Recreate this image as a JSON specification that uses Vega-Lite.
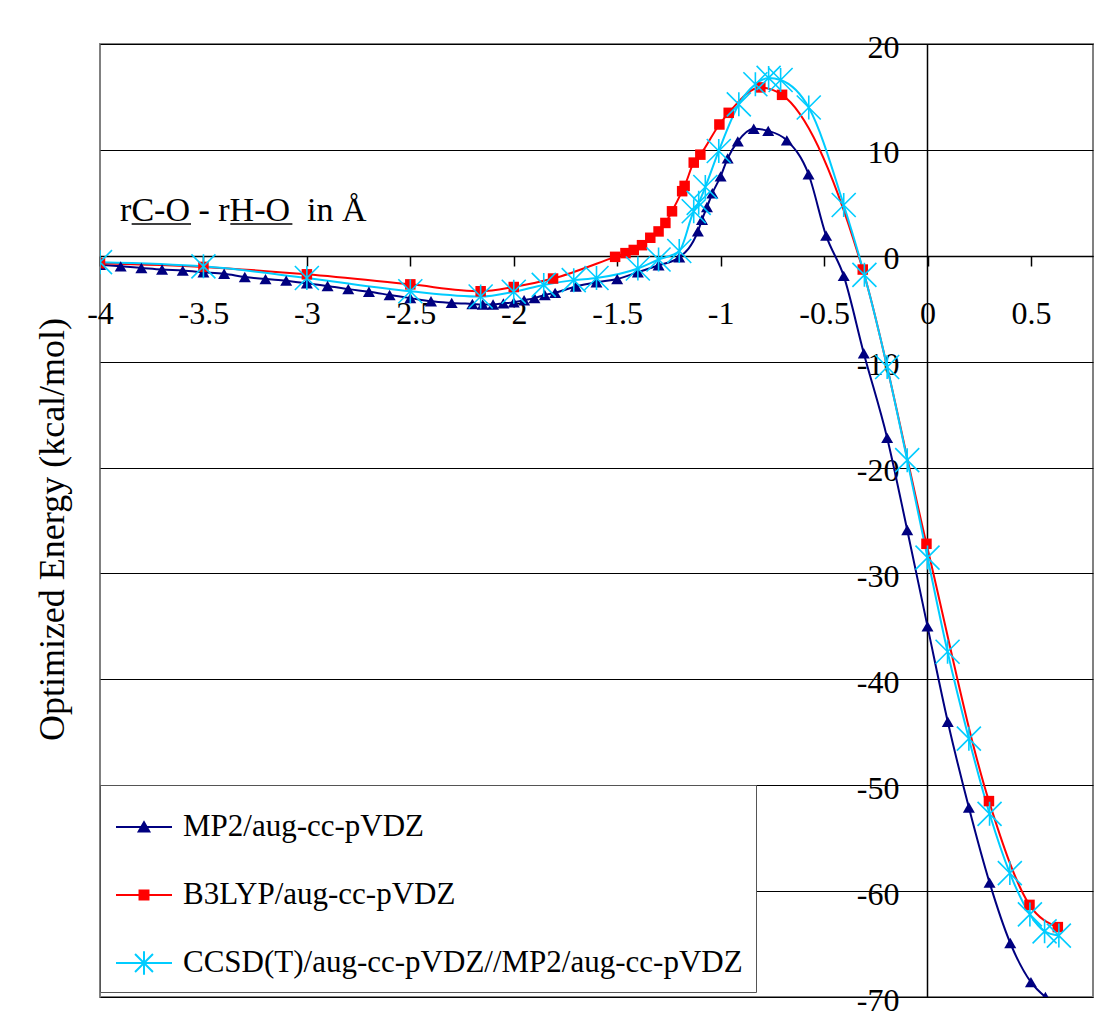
{
  "$schema": "https://vega.github.io/schema/vega-lite/v6.json",
  "width": 993,
  "height": 953,
  "autosize": {"type": "none"},
  "padding": {"left": 100, "top": 44, "right": 19, "bottom": 29},
  "background": "white",
  "config": {"view": {"stroke": "#808080", "strokeWidth": 2}, "font": "Liberation Serif"},
  "data": {"values": [
    {"method": "MP2/aug-cc-pVDZ", "r": -4.0, "E": -0.85},
    {"method": "MP2/aug-cc-pVDZ", "r": -3.9, "E": -1.0},
    {"method": "MP2/aug-cc-pVDZ", "r": -3.8, "E": -1.15},
    {"method": "MP2/aug-cc-pVDZ", "r": -3.7, "E": -1.3},
    {"method": "MP2/aug-cc-pVDZ", "r": -3.6, "E": -1.4},
    {"method": "MP2/aug-cc-pVDZ", "r": -3.5, "E": -1.55},
    {"method": "MP2/aug-cc-pVDZ", "r": -3.4, "E": -1.7},
    {"method": "MP2/aug-cc-pVDZ", "r": -3.3, "E": -2.0},
    {"method": "MP2/aug-cc-pVDZ", "r": -3.2, "E": -2.2},
    {"method": "MP2/aug-cc-pVDZ", "r": -3.1, "E": -2.35},
    {"method": "MP2/aug-cc-pVDZ", "r": -3.0, "E": -2.6},
    {"method": "MP2/aug-cc-pVDZ", "r": -2.9, "E": -2.85},
    {"method": "MP2/aug-cc-pVDZ", "r": -2.8, "E": -3.15},
    {"method": "MP2/aug-cc-pVDZ", "r": -2.7, "E": -3.4},
    {"method": "MP2/aug-cc-pVDZ", "r": -2.6, "E": -3.7},
    {"method": "MP2/aug-cc-pVDZ", "r": -2.5, "E": -4.0},
    {"method": "MP2/aug-cc-pVDZ", "r": -2.4, "E": -4.3},
    {"method": "MP2/aug-cc-pVDZ", "r": -2.3, "E": -4.45},
    {"method": "MP2/aug-cc-pVDZ", "r": -2.2, "E": -4.55},
    {"method": "MP2/aug-cc-pVDZ", "r": -2.15, "E": -4.6},
    {"method": "MP2/aug-cc-pVDZ", "r": -2.1, "E": -4.6},
    {"method": "MP2/aug-cc-pVDZ", "r": -2.05, "E": -4.5},
    {"method": "MP2/aug-cc-pVDZ", "r": -2.0, "E": -4.4},
    {"method": "MP2/aug-cc-pVDZ", "r": -1.95, "E": -4.2},
    {"method": "MP2/aug-cc-pVDZ", "r": -1.9, "E": -4.0},
    {"method": "MP2/aug-cc-pVDZ", "r": -1.85, "E": -3.7},
    {"method": "MP2/aug-cc-pVDZ", "r": -1.8, "E": -3.5},
    {"method": "MP2/aug-cc-pVDZ", "r": -1.7, "E": -2.9},
    {"method": "MP2/aug-cc-pVDZ", "r": -1.6, "E": -2.5},
    {"method": "MP2/aug-cc-pVDZ", "r": -1.5, "E": -2.2},
    {"method": "MP2/aug-cc-pVDZ", "r": -1.4, "E": -1.55},
    {"method": "MP2/aug-cc-pVDZ", "r": -1.3, "E": -0.9},
    {"method": "MP2/aug-cc-pVDZ", "r": -1.2, "E": -0.15},
    {"method": "MP2/aug-cc-pVDZ", "r": -1.11, "E": 2.3},
    {"method": "MP2/aug-cc-pVDZ", "r": -1.09, "E": 3.4},
    {"method": "MP2/aug-cc-pVDZ", "r": -1.066, "E": 4.6},
    {"method": "MP2/aug-cc-pVDZ", "r": -1.04, "E": 5.9},
    {"method": "MP2/aug-cc-pVDZ", "r": -1.0, "E": 7.5},
    {"method": "MP2/aug-cc-pVDZ", "r": -0.966, "E": 9.2},
    {"method": "MP2/aug-cc-pVDZ", "r": -0.917, "E": 10.8},
    {"method": "MP2/aug-cc-pVDZ", "r": -0.84, "E": 12.0},
    {"method": "MP2/aug-cc-pVDZ", "r": -0.77, "E": 11.8},
    {"method": "MP2/aug-cc-pVDZ", "r": -0.68, "E": 10.9},
    {"method": "MP2/aug-cc-pVDZ", "r": -0.575, "E": 7.7},
    {"method": "MP2/aug-cc-pVDZ", "r": -0.49, "E": 1.9},
    {"method": "MP2/aug-cc-pVDZ", "r": -0.405, "E": -1.9},
    {"method": "MP2/aug-cc-pVDZ", "r": -0.308, "E": -9.2},
    {"method": "MP2/aug-cc-pVDZ", "r": -0.195, "E": -17.2},
    {"method": "MP2/aug-cc-pVDZ", "r": -0.098, "E": -25.9},
    {"method": "MP2/aug-cc-pVDZ", "r": 0.0, "E": -35.0},
    {"method": "MP2/aug-cc-pVDZ", "r": 0.098, "E": -44.0},
    {"method": "MP2/aug-cc-pVDZ", "r": 0.2, "E": -52.1},
    {"method": "MP2/aug-cc-pVDZ", "r": 0.3, "E": -59.2},
    {"method": "MP2/aug-cc-pVDZ", "r": 0.4, "E": -64.9},
    {"method": "MP2/aug-cc-pVDZ", "r": 0.5, "E": -68.6},
    {"method": "MP2/aug-cc-pVDZ", "r": 0.57, "E": -70.0},

    {"method": "B3LYP/aug-cc-pVDZ", "r": -4.0, "E": -0.7},
    {"method": "B3LYP/aug-cc-pVDZ", "r": -3.5, "E": -1.05},
    {"method": "B3LYP/aug-cc-pVDZ", "r": -3.0, "E": -1.75},
    {"method": "B3LYP/aug-cc-pVDZ", "r": -2.5, "E": -2.7},
    {"method": "B3LYP/aug-cc-pVDZ", "r": -2.16, "E": -3.35},
    {"method": "B3LYP/aug-cc-pVDZ", "r": -2.0, "E": -2.95},
    {"method": "B3LYP/aug-cc-pVDZ", "r": -1.81, "E": -2.15},
    {"method": "B3LYP/aug-cc-pVDZ", "r": -1.51, "E": -0.1},
    {"method": "B3LYP/aug-cc-pVDZ", "r": -1.46, "E": 0.25},
    {"method": "B3LYP/aug-cc-pVDZ", "r": -1.42, "E": 0.55},
    {"method": "B3LYP/aug-cc-pVDZ", "r": -1.38, "E": 1.0},
    {"method": "B3LYP/aug-cc-pVDZ", "r": -1.34, "E": 1.7},
    {"method": "B3LYP/aug-cc-pVDZ", "r": -1.3, "E": 2.3},
    {"method": "B3LYP/aug-cc-pVDZ", "r": -1.267, "E": 3.1},
    {"method": "B3LYP/aug-cc-pVDZ", "r": -1.235, "E": 4.2},
    {"method": "B3LYP/aug-cc-pVDZ", "r": -1.186, "E": 6.1},
    {"method": "B3LYP/aug-cc-pVDZ", "r": -1.174, "E": 6.6},
    {"method": "B3LYP/aug-cc-pVDZ", "r": -1.13, "E": 8.8},
    {"method": "B3LYP/aug-cc-pVDZ", "r": -1.098, "E": 9.55},
    {"method": "B3LYP/aug-cc-pVDZ", "r": -1.006, "E": 12.4},
    {"method": "B3LYP/aug-cc-pVDZ", "r": -0.961, "E": 13.5},
    {"method": "B3LYP/aug-cc-pVDZ", "r": -0.808, "E": 15.9},
    {"method": "B3LYP/aug-cc-pVDZ", "r": -0.703, "E": 15.2},
    {"method": "B3LYP/aug-cc-pVDZ", "r": -0.313, "E": -1.3},
    {"method": "B3LYP/aug-cc-pVDZ", "r": -0.005, "E": -27.2},
    {"method": "B3LYP/aug-cc-pVDZ", "r": 0.297, "E": -51.5},
    {"method": "B3LYP/aug-cc-pVDZ", "r": 0.493, "E": -61.3},
    {"method": "B3LYP/aug-cc-pVDZ", "r": 0.63, "E": -63.4},

    {"method": "CCSD(T)/aug-cc-pVDZ//MP2/aug-cc-pVDZ", "r": -4.0, "E": -0.6},
    {"method": "CCSD(T)/aug-cc-pVDZ//MP2/aug-cc-pVDZ", "r": -3.5, "E": -1.0},
    {"method": "CCSD(T)/aug-cc-pVDZ//MP2/aug-cc-pVDZ", "r": -3.0, "E": -2.1},
    {"method": "CCSD(T)/aug-cc-pVDZ//MP2/aug-cc-pVDZ", "r": -2.5, "E": -3.35},
    {"method": "CCSD(T)/aug-cc-pVDZ//MP2/aug-cc-pVDZ", "r": -2.16, "E": -3.85},
    {"method": "CCSD(T)/aug-cc-pVDZ//MP2/aug-cc-pVDZ", "r": -2.0, "E": -3.4},
    {"method": "CCSD(T)/aug-cc-pVDZ//MP2/aug-cc-pVDZ", "r": -1.855, "E": -2.75},
    {"method": "CCSD(T)/aug-cc-pVDZ//MP2/aug-cc-pVDZ", "r": -1.71, "E": -2.3},
    {"method": "CCSD(T)/aug-cc-pVDZ//MP2/aug-cc-pVDZ", "r": -1.6, "E": -2.1},
    {"method": "CCSD(T)/aug-cc-pVDZ//MP2/aug-cc-pVDZ", "r": -1.4, "E": -1.2},
    {"method": "CCSD(T)/aug-cc-pVDZ//MP2/aug-cc-pVDZ", "r": -1.3, "E": -0.35},
    {"method": "CCSD(T)/aug-cc-pVDZ//MP2/aug-cc-pVDZ", "r": -1.2, "E": 0.45},
    {"method": "CCSD(T)/aug-cc-pVDZ//MP2/aug-cc-pVDZ", "r": -1.13, "E": 4.2},
    {"method": "CCSD(T)/aug-cc-pVDZ//MP2/aug-cc-pVDZ", "r": -1.106, "E": 5.0},
    {"method": "CCSD(T)/aug-cc-pVDZ//MP2/aug-cc-pVDZ", "r": -1.074, "E": 6.5},
    {"method": "CCSD(T)/aug-cc-pVDZ//MP2/aug-cc-pVDZ", "r": -1.009, "E": 9.9},
    {"method": "CCSD(T)/aug-cc-pVDZ//MP2/aug-cc-pVDZ", "r": -0.912, "E": 14.3},
    {"method": "CCSD(T)/aug-cc-pVDZ//MP2/aug-cc-pVDZ", "r": -0.832, "E": 16.2},
    {"method": "CCSD(T)/aug-cc-pVDZ//MP2/aug-cc-pVDZ", "r": -0.768, "E": 16.8},
    {"method": "CCSD(T)/aug-cc-pVDZ//MP2/aug-cc-pVDZ", "r": -0.71, "E": 16.6},
    {"method": "CCSD(T)/aug-cc-pVDZ//MP2/aug-cc-pVDZ", "r": -0.574, "E": 14.0},
    {"method": "CCSD(T)/aug-cc-pVDZ//MP2/aug-cc-pVDZ", "r": -0.405, "E": 4.8},
    {"method": "CCSD(T)/aug-cc-pVDZ//MP2/aug-cc-pVDZ", "r": -0.305, "E": -1.8},
    {"method": "CCSD(T)/aug-cc-pVDZ//MP2/aug-cc-pVDZ", "r": -0.195, "E": -10.5},
    {"method": "CCSD(T)/aug-cc-pVDZ//MP2/aug-cc-pVDZ", "r": -0.098, "E": -19.3},
    {"method": "CCSD(T)/aug-cc-pVDZ//MP2/aug-cc-pVDZ", "r": 0.0, "E": -28.5},
    {"method": "CCSD(T)/aug-cc-pVDZ//MP2/aug-cc-pVDZ", "r": 0.097, "E": -37.4},
    {"method": "CCSD(T)/aug-cc-pVDZ//MP2/aug-cc-pVDZ", "r": 0.2, "E": -45.6},
    {"method": "CCSD(T)/aug-cc-pVDZ//MP2/aug-cc-pVDZ", "r": 0.3, "E": -52.7},
    {"method": "CCSD(T)/aug-cc-pVDZ//MP2/aug-cc-pVDZ", "r": 0.398, "E": -58.3},
    {"method": "CCSD(T)/aug-cc-pVDZ//MP2/aug-cc-pVDZ", "r": 0.495, "E": -62.2},
    {"method": "CCSD(T)/aug-cc-pVDZ//MP2/aug-cc-pVDZ", "r": 0.566, "E": -63.8},
    {"method": "CCSD(T)/aug-cc-pVDZ//MP2/aug-cc-pVDZ", "r": 0.635, "E": -64.2}
  ]},
  "layer": [
    {
      "transform": [{"filter": "datum.method === 'MP2/aug-cc-pVDZ'"}],
      "mark": {"type": "line", "interpolate": "monotone", "color": "#000080", "strokeWidth": 2, "clip": true},
      "encoding": {
        "x": {"field": "r", "type": "quantitative",
          "scale": {"domain": [-4, 0.8], "nice": false, "zero": false},
          "axis": {"orient": "bottom", "offset": -741, "values": [-4, -3.5, -3, -2.5, -2, -1.5, -1, -0.5, 0, 0.5],
            "labelExpr": "toString(datum.value)",
            "grid": false, "domainColor": "#000000", "domainWidth": 1.5, "tickColor": "#000000", "tickWidth": 1.5,
            "tickSize": 10, "labelFont": "Liberation Serif", "labelFontSize": 32, "labelColor": "#000000",
            "labelPadding": 32, "labelFlush": false, "labelOverlap": false, "title": null}},
        "y": {"field": "E", "type": "quantitative",
          "scale": {"domain": [-70, 20], "nice": false, "zero": false},
          "axis": {"orient": "left", "offset": -827, "values": [20, 10, 0, -10, -20, -30, -40, -50, -60, -70],
            "labelExpr": "toString(datum.value)",
            "grid": true, "gridColor": "#000000", "gridWidth": 1, "domainColor": "#000000", "domainWidth": 1.5,
            "tickColor": "#000000", "tickWidth": 1, "tickSize": 8, "labelFont": "Liberation Serif", "labelFontSize": 32,
            "labelColor": "#000000", "labelPadding": 20, "labelOffset": 3, "labelFlush": false, "labelOverlap": false,
            "title": "Optimized Energy (kcal/mol)", "titleFont": "Liberation Serif", "titleFontSize": 36,
            "titleFontWeight": "normal", "titleColor": "#000000", "titleAngle": -90, "titleAlign": "center",
            "titleBaseline": "alphabetic", "titleX": -864, "titleY": 485}}
      }
    },
    {
      "transform": [{"filter": "datum.method === 'B3LYP/aug-cc-pVDZ'"}],
      "mark": {"type": "line", "interpolate": "monotone", "color": "#FF0000", "strokeWidth": 2, "clip": true},
      "encoding": {"x": {"field": "r", "type": "quantitative"}, "y": {"field": "E", "type": "quantitative"}}
    },
    {
      "transform": [{"filter": "datum.method === 'CCSD(T)/aug-cc-pVDZ//MP2/aug-cc-pVDZ'"}],
      "mark": {"type": "line", "interpolate": "monotone", "color": "#00CCFF", "strokeWidth": 2, "clip": true},
      "encoding": {"x": {"field": "r", "type": "quantitative"}, "y": {"field": "E", "type": "quantitative"}}
    },
    {
      "transform": [{"filter": "datum.method === 'MP2/aug-cc-pVDZ'"}],
      "mark": {"type": "point", "shape": "triangle-up", "filled": true, "size": 144, "color": "#000080", "opacity": 1, "clip": true},
      "encoding": {"x": {"field": "r", "type": "quantitative"}, "y": {"field": "E", "type": "quantitative"}}
    },
    {
      "transform": [{"filter": "datum.method === 'B3LYP/aug-cc-pVDZ'"}],
      "mark": {"type": "point", "shape": "square", "filled": true, "size": 110, "color": "#FF0000", "opacity": 1, "clip": true},
      "encoding": {"x": {"field": "r", "type": "quantitative"}, "y": {"field": "E", "type": "quantitative"}}
    },
    {
      "transform": [{"filter": "datum.method === 'CCSD(T)/aug-cc-pVDZ//MP2/aug-cc-pVDZ'"}],
      "mark": {"type": "point", "shape": "M-1,-1L1,1M-1,1L1,-1M0,-1V1", "filled": false, "size": 576, "color": "#00CCFF", "strokeWidth": 1.6, "opacity": 1, "clip": true},
      "encoding": {"x": {"field": "r", "type": "quantitative"}, "y": {"field": "E", "type": "quantitative"}}
    },
    {
      "data": {"values": [{}]},
      "mark": {"type": "text", "align": "left", "baseline": "alphabetic", "font": "Liberation Serif", "fontSize": 34, "color": "#000000"},
      "encoding": {
        "x": {"datum": -3.903, "type": "quantitative"},
        "y": {"datum": 3.3, "type": "quantitative"},
        "text": {"value": "rC-O - rH-O\u00a0 in Å"}
      }
    },
    {
      "data": {"values": [{}]},
      "mark": {"type": "rule", "color": "#000000", "strokeWidth": 1.5},
      "encoding": {
        "x": {"datum": -3.847, "type": "quantitative"},
        "x2": {"datum": -3.56},
        "y": {"datum": 3.0, "type": "quantitative"}
      }
    },
    {
      "data": {"values": [{}]},
      "mark": {"type": "rule", "color": "#000000", "strokeWidth": 1.5},
      "encoding": {
        "x": {"datum": -3.37, "type": "quantitative"},
        "x2": {"datum": -3.07},
        "y": {"datum": 3.0, "type": "quantitative"}
      }
    },
    {
      "mark": {"type": "point", "opacity": 0, "size": 3136},
      "encoding": {
        "x": {"field": "r", "type": "quantitative"},
        "y": {"field": "E", "type": "quantitative"},
        "fill": {"field": "method", "type": "nominal",
          "scale": {"domain": ["MP2/aug-cc-pVDZ", "B3LYP/aug-cc-pVDZ", "CCSD(T)/aug-cc-pVDZ//MP2/aug-cc-pVDZ"], "range": ["#000080", "#FF0000", "#00CCFF"]},
          "legend": {"orient": "none", "legendX": 0, "legendY": 741, "title": null, "fillColor": "#FFFFFF", "strokeColor": "#555555",
            "padding": 13, "rowPadding": 24, "symbolSize": 3136, "symbolStrokeWidth": 2, "symbolOffset": 2, "labelOffset": 10,
            "labelFont": "Liberation Serif", "labelFontSize": 31, "labelColor": "#000000", "labelLimit": 0, "symbolOpacity": 1}},
        "stroke": {"field": "method", "type": "nominal",
          "scale": {"domain": ["MP2/aug-cc-pVDZ", "B3LYP/aug-cc-pVDZ", "CCSD(T)/aug-cc-pVDZ//MP2/aug-cc-pVDZ"], "range": ["#000080", "#FF0000", "#00CCFF"]},
          "legend": {"orient": "none", "legendX": 0, "legendY": 741, "title": null, "fillColor": "#FFFFFF", "strokeColor": "#555555",
            "padding": 13, "rowPadding": 24, "symbolSize": 3136, "symbolStrokeWidth": 2, "symbolOffset": 2, "labelOffset": 10,
            "labelFont": "Liberation Serif", "labelFontSize": 31, "labelColor": "#000000", "labelLimit": 0, "symbolOpacity": 1}},
        "shape": {"field": "method", "type": "nominal",
          "scale": {"domain": ["MP2/aug-cc-pVDZ", "B3LYP/aug-cc-pVDZ", "CCSD(T)/aug-cc-pVDZ//MP2/aug-cc-pVDZ"],
            "range": ["M-1,0H1M0,-0.17L0.19,0.16L-0.19,0.16Z", "M-1,0H1M-0.16,-0.16H0.16V0.16H-0.16Z", "M-1,0H1M-0.32,-0.32L0.32,0.32M-0.32,0.32L0.32,-0.32M0,-0.42V0.42"]},
          "legend": {"orient": "none", "legendX": 0, "legendY": 741, "title": null, "fillColor": "#FFFFFF", "strokeColor": "#555555",
            "padding": 13, "rowPadding": 24, "symbolSize": 3136, "symbolStrokeWidth": 2, "symbolOffset": 2, "labelOffset": 10,
            "labelFont": "Liberation Serif", "labelFontSize": 31, "labelColor": "#000000", "labelLimit": 0, "symbolOpacity": 1}}
      }
    }
  ]
}
